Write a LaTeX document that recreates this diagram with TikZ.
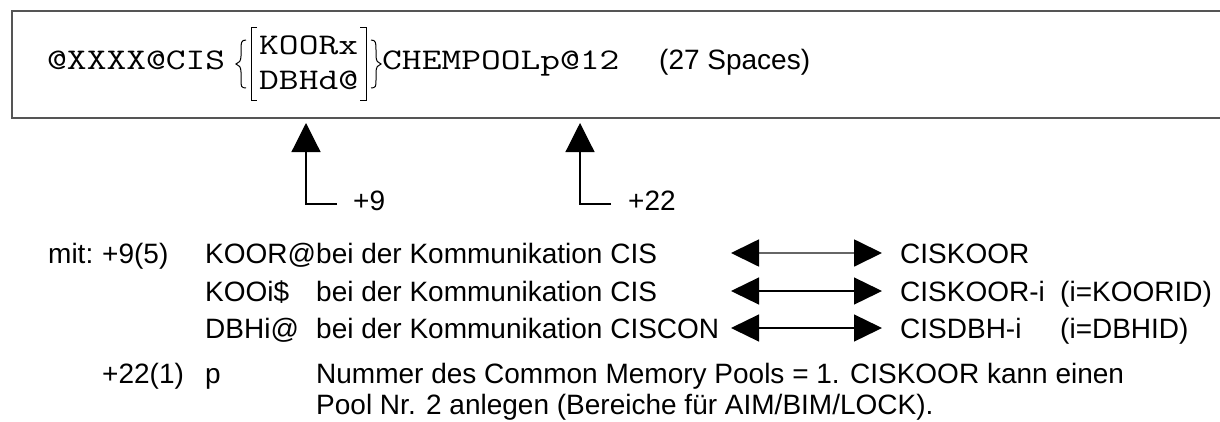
\documentclass[tikz,border=0pt]{standalone}
\usepackage{fontspec}
\setmainfont{Liberation Sans}
\usetikzlibrary{arrows.meta}
\newcommand\monotxt{\ttfamily\fontsize{30}{32}\selectfont}
\newcommand\mt[1]{\scalebox{1.28}[1]{#1}}
\newcommand\sanstxt{\rmfamily\fontsize{28}{30}\selectfont}
\definecolor{boxgray}{RGB}{85,85,85}
\tikzset{
  mono/.style={inner sep=0pt, anchor=base west, font=\monotxt},
  txt/.style={inner sep=0pt, anchor=base west, font=\sanstxt},
  upar/.style={line width=1.2pt, -{Triangle[length=29pt,width=29pt]}},
  dblar/.style={line width=1.3pt, {Triangle[length=28pt,width=27pt,color=black]}-{Triangle[length=28pt,width=27pt,color=black]}},
  brk/.style={line width=1pt},
}
\begin{document}
\begin{tikzpicture}[x=1pt,y=-1pt]
\useasboundingbox (0,0) rectangle (1220,421);
% record box (right side runs off the page)
\node[draw=boxgray, line width=2pt, inner sep=0pt, anchor=north west,
      minimum width=1240pt, minimum height=107pt] (box) at (11,10) {};
% main line
\node[mono] (m1) at (47,69) {\mt{@XXXX@CIS}};
\node[mono] (k1) at (259,54) {\mt{KOORx}};
\node[mono] (k2) at (259,89) {\mt{DBHd@}};
\node[mono] (m2) at (382,69) {\mt{CHEMPOOLp@12}};
\node[txt]  (sp) at (659,69) {(27 Spaces)};
% brackets and braces
\draw[brk] (257,27) -- (251,27) -- (251,100) -- (257,100);
\draw[brk] (360,27) -- (366,27) -- (366,100) -- (360,100);
\draw[brk] (246,40) .. controls (241,40) and (241,43) .. (241,50) -- (241,56)
  .. controls (241,61) and (239,63) .. (236,64) .. controls (239,65) and (241,67) .. (241,72)
  -- (241,80) .. controls (241,86) and (241,88) .. (246,88);
\draw[brk] (371,40) .. controls (376,40) and (376,43) .. (376,50) -- (376,56)
  .. controls (376,61) and (378,63) .. (381,64) .. controls (378,65) and (376,67) .. (376,72)
  -- (376,80) .. controls (376,86) and (376,88) .. (371,88);
% pointers
\coordinate (t1) at (306,123);
\coordinate (c1) at (306,204);
\coordinate (e1) at (337,204);
\node[txt] (p9) at (353,210) {+9};
\draw[upar] (e1) -- (c1) -- (t1);
\coordinate (t2) at (580,123);
\coordinate (c2) at (580,204);
\coordinate (e2) at (611,204);
\node[txt] (p22) at (628,210) {+22};
\draw[upar] (e2) -- (c2) -- (t2);
% legend
\node[txt] (mit) at (48,263) {mit:};
\node[txt] (a1) at (102,263) {+9(5)};
\node[txt] (b1) at (205,263) {KOOR@};
\node[txt] (c1t) at (316,263) {bei der Kommunikation CIS};
\node[txt] (d1) at (900,263) {CISKOOR};
\node[txt] (b2) at (205,301) {KOOi\$};
\node[txt] (c2t) at (316,301) {bei der Kommunikation CIS};
\node[txt] (d2) at (900,301) {CISKOOR-i};
\node[txt] (e2t) at (1060,301) {(i=KOORID)};
\node[txt] (b3) at (205,338) {DBHi@};
\node[txt] (c3t) at (316,338) {bei der Kommunikation CISCON};
\node[txt] (d3) at (900,338) {CISDBH-i};
\node[txt] (e3t) at (1060,338) {(i=DBHID)};
\node[txt] (a4) at (102,383) {+22(1)};
\node[txt] (b4) at (205,383) {p};
\node[txt] (c4) at (316,383) {Nummer des Common Memory Pools = 1. CISKOOR kann einen};
\node[txt] (c5) at (316,414) {Pool Nr. 2 anlegen (Bereiche für AIM/BIM/LOCK).};
% double arrows
\coordinate (l1) at (731,253); \coordinate (r1) at (882,253);
\coordinate (l2) at (731,291); \coordinate (r2) at (882,291);
\coordinate (l3) at (731,328); \coordinate (r3) at (882,328);
\draw[dblar, draw=black!60, line width=1.8pt] (l1) -- (r1);
\draw[dblar] (l2) -- (r2);
\draw[dblar] (l3) -- (r3);
\end{tikzpicture}
\end{document}
